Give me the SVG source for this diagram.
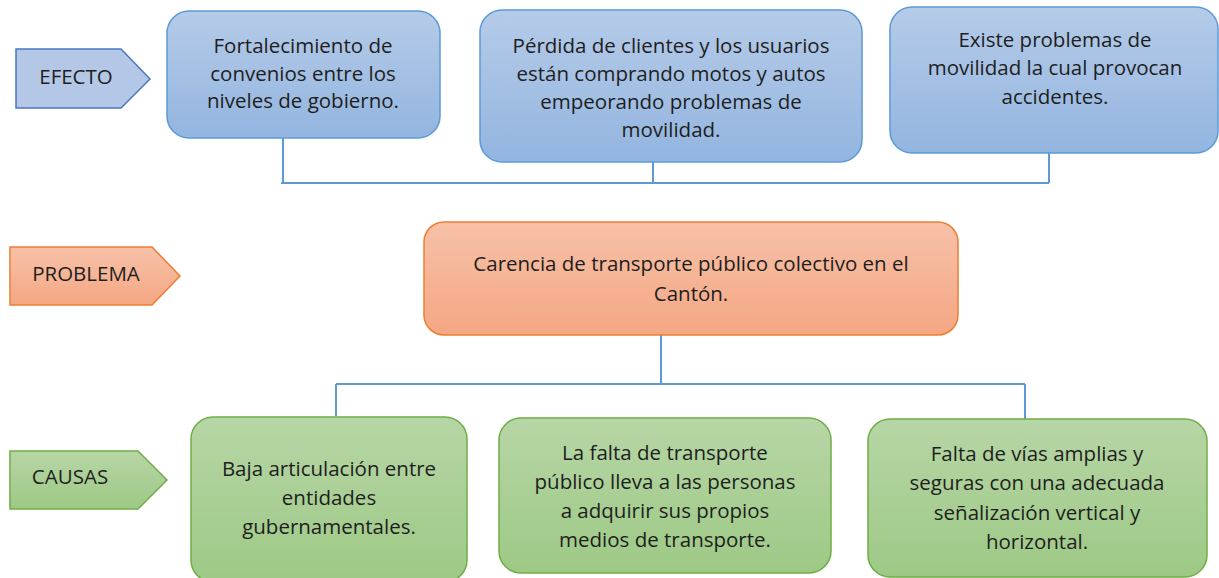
<svg xmlns="http://www.w3.org/2000/svg" width="1219" height="578" viewBox="0 0 1219 578">
<defs>
<linearGradient id="gb" x1="0" y1="0" x2="0" y2="1"><stop offset="0" stop-color="#b5cbe8"/><stop offset="1" stop-color="#93b5e0"/></linearGradient>
<linearGradient id="go" x1="0" y1="0" x2="0" y2="1"><stop offset="0" stop-color="#f7c1a8"/><stop offset="1" stop-color="#f4a783"/></linearGradient>
<linearGradient id="gg" x1="0" y1="0" x2="0" y2="1"><stop offset="0" stop-color="#b7d6a6"/><stop offset="1" stop-color="#9dc985"/></linearGradient>
<style>
.b{fill:url(#gb);stroke:#5b9bd5;stroke-width:1.5}
.o{fill:url(#go);stroke:#ed7d31;stroke-width:1.5}
.g{fill:url(#gg);stroke:#70ad47;stroke-width:1.5}
.pb{fill:#b4c7e7;stroke:#4a78c0;stroke-width:1.5}
.t{font-family:"Open Sans","Liberation Sans",sans-serif;font-size:20.5px;fill:#1e1e1e;text-anchor:middle}
.c{fill:none;stroke:#5b9bd5;stroke-width:2}
</style>
</defs>
<g id="connectors">
<path class="c" d="M283 138V183M653 162V183M1049 153V183M281 183H1049"/>
<path class="c" d="M661 335V384M336 384H1025M336 384V416M1025 384V419"/>
</g>
<g id="efecto">
<path class="pb" d="M16 49H121L150 79L121 108H16Z"/>
<text class="t" x="76" y="84">EFECTO</text>
</g>
<g id="problema">
<path class="o" d="M10 247H152L180 276L152 305H10Z"/>
<text class="t" x="86" y="281">PROBLEMA</text>
</g>
<g id="causas">
<path class="g" d="M10 451H138L167 480L138 509H10Z"/>
<text class="t" x="70" y="484">CAUSAS</text>
</g>
<g id="e1">
<rect class="b" x="167" y="11" width="273" height="127" rx="22"/>
<text class="t" x="303" y="53">Fortalecimiento de</text>
<text class="t" x="303" y="81">convenios entre los</text>
<text class="t" x="303" y="108">niveles de gobierno.</text>
</g>
<g id="e2">
<rect class="b" x="480" y="10" width="382" height="152" rx="22"/>
<text class="t" x="671" y="53">Pérdida de clientes y los usuarios</text>
<text class="t" x="671" y="81">están comprando motos y autos</text>
<text class="t" x="671" y="109">empeorando problemas de</text>
<text class="t" x="671" y="137">movilidad.</text>
</g>
<g id="e3">
<rect class="b" x="890" y="7" width="328" height="146" rx="22"/>
<text class="t" x="1055" y="47">Existe problemas de</text>
<text class="t" x="1055" y="75">movilidad la cual provocan</text>
<text class="t" x="1055" y="104">accidentes.</text>
</g>
<g id="p1">
<rect class="o" x="424" y="222" width="534" height="113" rx="20"/>
<text class="t" x="691" y="271">Carencia de transporte público colectivo en el</text>
<text class="t" x="691" y="301">Cantón.</text>
</g>
<g id="c1">
<rect class="g" x="191" y="417" width="276" height="165" rx="22"/>
<text class="t" x="329" y="476">Baja articulación entre</text>
<text class="t" x="329" y="505">entidades</text>
<text class="t" x="329" y="534">gubernamentales.</text>
</g>
<g id="c2">
<rect class="g" x="499" y="418" width="332" height="155" rx="22"/>
<text class="t" x="665" y="460">La falta de transporte</text>
<text class="t" x="665" y="489">público lleva a las personas</text>
<text class="t" x="665" y="518">a adquirir sus propios</text>
<text class="t" x="665" y="547">medios de transporte.</text>
</g>
<g id="c3">
<rect class="g" x="868" y="419" width="339" height="158" rx="22"/>
<text class="t" x="1037" y="461">Falta de vías amplias y</text>
<text class="t" x="1037" y="490">seguras con una adecuada</text>
<text class="t" x="1037" y="520">señalización vertical y</text>
<text class="t" x="1037" y="549">horizontal.</text>
</g>
</svg>
